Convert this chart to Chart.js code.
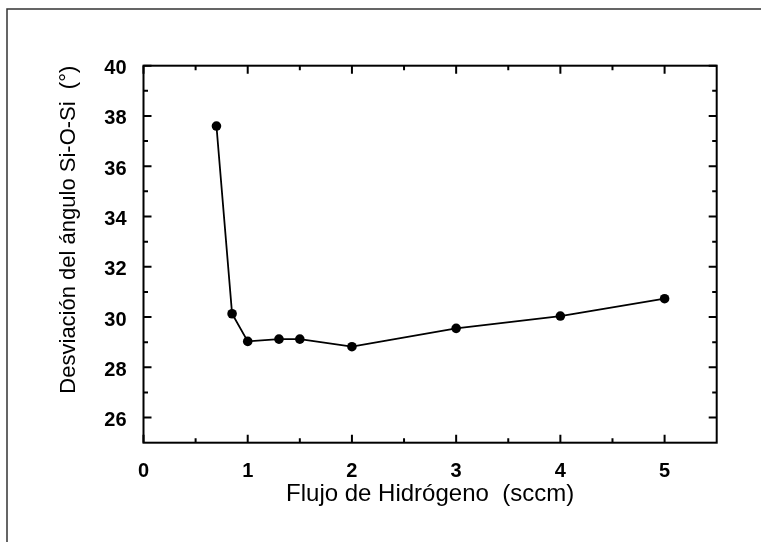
<!DOCTYPE html>
<html>
<head>
<meta charset="utf-8">
<script src="https://cdn.jsdelivr.net/npm/chart.js@4"></script>
<style>
  html, body { margin: 0; padding: 0; background: #fff; }
  #wrap { width: 761px; height: 542px; }
</style>
</head>
<body>
<div id="wrap"><canvas id="devChart" width="761" height="542"></canvas></div>
<script>
// Hydrogen flow (sccm) and Si-O-Si angle deviation (degrees)
const hydrogenFlow = [0.7, 0.85, 1.0, 1.3, 1.5, 2.0, 3.0, 4.0, 5.0];
const angleDeviation = [37.6, 30.13, 29.03, 29.12, 29.12, 28.82, 29.55, 30.04, 30.73];

const xTicks = [0, 1, 2, 3, 4, 5];
const xMinorTicks = [0.5, 1.5, 2.5, 3.5, 4.5];
const yTicks = [26, 28, 30, 32, 34, 36, 38, 40];
const yMinorTicks = [27, 29, 31, 33, 35, 37, 39];

const ctx = document.getElementById("devChart").getContext("2d");

// frame around the page plus inward tick marks on all four sides
const framePlugin = {
  id: "framePlugin",
  beforeDraw(chart) {
    const c = chart.ctx;
    c.save();
    c.strokeStyle = "#333";
    c.lineWidth = 1.5;
    c.beginPath();
    c.moveTo(7, 542);
    c.lineTo(7, 9);
    c.lineTo(761, 9);
    c.stroke();
    c.restore();
  },
  afterDatasetsDraw(chart) {
    const { ctx: c, chartArea: a, scales } = chart;
    c.save();
    c.strokeStyle = "#000";
    c.lineWidth = 2;
    c.strokeRect(a.left, a.top, a.right - a.left, a.bottom - a.top);
    c.beginPath();
    const xMark = (v, len) => {
      const px = scales.x.getPixelForValue(v);
      c.moveTo(px, a.bottom); c.lineTo(px, a.bottom - len);
      c.moveTo(px, a.top); c.lineTo(px, a.top + len);
    };
    const yMark = (v, len) => {
      const py = scales.y.getPixelForValue(v);
      c.moveTo(a.left, py); c.lineTo(a.left + len, py);
      c.moveTo(a.right, py); c.lineTo(a.right - len, py);
    };
    xTicks.forEach(v => xMark(v, 8));
    xMinorTicks.forEach(v => xMark(v, 4.5));
    yTicks.forEach(v => yMark(v, 8));
    yMinorTicks.forEach(v => yMark(v, 4.5));
    c.stroke();
    c.restore();
  }
};

const devChart = new Chart(ctx, {
  type: "line",
  data: {
    datasets: [
      {
        data: hydrogenFlow.map((x, i) => ({ x: x, y: angleDeviation[i] })),
        borderColor: "#000",
        borderWidth: 1.8,
        backgroundColor: "#000",
        pointBackgroundColor: "#000",
        pointBorderColor: "#000",
        pointRadius: 4.8,
        pointBorderWidth: 0,
        tension: 0,
        fill: false
      }
    ]
  },
  options: {
    responsive: false,
    animation: false,
    devicePixelRatio: 1,
    layout: { padding: { top: 65.7, right: 44.3, left: 0, bottom: 0 } },
    plugins: {
      legend: { display: false },
      tooltip: { enabled: false }
    },
    scales: {
      x: {
        type: "linear",
        min: 0,
        max: 5.5,
        grid: { display: false },
        border: { display: false },
        afterBuildTicks: s => { s.ticks = xTicks.map(v => ({ value: v })); },
        afterFit: s => { s.height = 99.3; },
        ticks: {
          color: "#000",
          padding: 9,
          maxRotation: 0,
          font: { family: "Arial, 'Liberation Sans'", size: 20, weight: "bold" }
        },
        title: {
          display: true,
          text: "Flujo de Hidrógeno  (sccm)",
          color: "#000",
          padding: { top: 0, bottom: 32.8 },
          font: { family: "Arial, 'Liberation Sans'", size: 24 }
        }
      },
      y: {
        type: "linear",
        min: 25,
        max: 40,
        grid: { display: false },
        border: { display: false },
        afterBuildTicks: s => { s.ticks = yTicks.map(v => ({ value: v })); },
        afterFit: s => { s.width = 143.5; },
        ticks: {
          color: "#000",
          padding: 9,
          labelOffset: 3,
          font: { family: "Arial, 'Liberation Sans'", size: 20, weight: "bold" }
        },
        title: {
          display: true,
          text: "Desviación del ángulo Si-O-Si  (°)",
          color: "#000",
          align: "end",
          padding: { top: 56, bottom: 0 },
          font: { family: "Arial, 'Liberation Sans'", size: 22 }
        }
      }
    }
  },
  plugins: [framePlugin]
});
</script>
</body>
</html>
